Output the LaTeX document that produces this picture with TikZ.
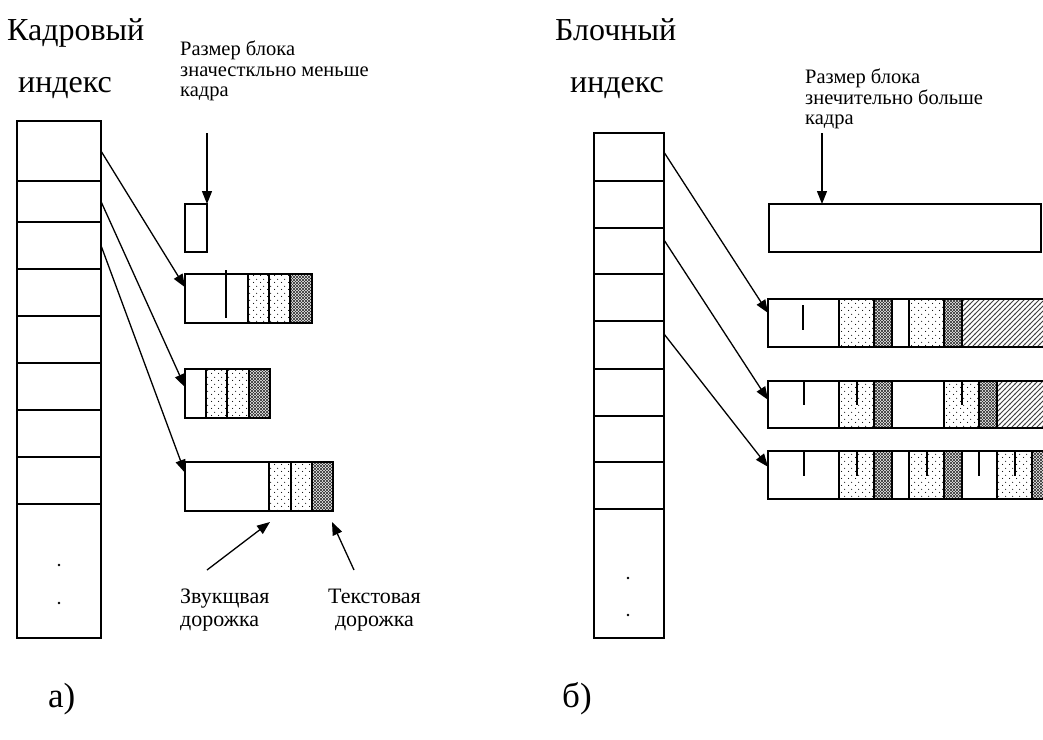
\documentclass[tikz,border=0pt]{standalone}
\usepackage{fontspec}
\setmainfont{Liberation Serif}
\usetikzlibrary{arrows.meta,patterns.meta,calc}

\tikzdeclarepattern{name=pdots, type=uncolored,
  bounding box={(0pt,0pt) and (7pt,7pt)}, tile size={(7pt,7pt)},
  code={\pgfpathcircle{\pgfpoint{1.75pt}{1.75pt}}{0.6pt}\pgfpathcircle{\pgfpoint{5.25pt}{5.25pt}}{0.6pt}\pgfusepath{fill}}}
\tikzdeclarepattern{name=pcross, type=uncolored,
  bounding box={(-0.5pt,-0.5pt) and (3.5pt,3.5pt)}, tile size={(3pt,3pt)},
  code={\pgfsetlinewidth{0.5pt}\pgfpathmoveto{\pgfpoint{-0.3pt}{-0.3pt}}\pgfpathlineto{\pgfpoint{3.3pt}{3.3pt}}\pgfpathmoveto{\pgfpoint{-0.3pt}{3.3pt}}\pgfpathlineto{\pgfpoint{3.3pt}{-0.3pt}}\pgfusepath{stroke}}}
\tikzdeclarepattern{name=phatch, type=uncolored,
  bounding box={(-1pt,-1pt) and (6pt,6pt)}, tile size={(5pt,5pt)},
  code={\pgfsetlinewidth{0.8pt}\pgfpathmoveto{\pgfpoint{-0.5pt}{-0.5pt}}\pgfpathlineto{\pgfpoint{5.5pt}{5.5pt}}\pgfusepath{stroke}}}

\newcommand\myBig{\fontsize{32}{36}\selectfont}
\newcommand\mySmall{\fontsize{20.5}{20.5}\selectfont}
\newcommand\myBottom{\fontsize{22}{23}\selectfont}
\newcommand\myLab{\fontsize{35}{38}\selectfont}

\tikzset{
  cell/.style={draw, line width=1.4pt, inner sep=0pt, outer sep=0pt, anchor=north west},
  sepline/.style={line width=1.4pt},
  tick/.style={line width=1.3pt},
  dotsfill/.style={pattern=pdots, pattern color=black},
  crossfill/.style={pattern=pcross, pattern color=black!80},
  hatchfill/.style={pattern=phatch, pattern color=black!75},
  arr/.style={-{Triangle[length=13pt,width=10pt]}, line width=1.3pt},
  bigtext/.style={font=\myBig, inner sep=0pt, anchor=base west},
  smalltext/.style={font=\mySmall, inner sep=0pt, anchor=north west, align=left},
  bottext/.style={font=\myBottom, inner sep=0pt, anchor=north west, align=left},
  labtext/.style={font=\myLab, inner sep=0pt, anchor=base west},
  dotmark/.style={fill=black}
}

\begin{document}
\begin{tikzpicture}[x=1pt,y=-1pt]
\clip (0,0) rectangle (1043,739);
\fill[white] (0,0) rectangle (1043,739);

% ---------------- left panel (a) ----------------
\node[bigtext] (ta1) at (7,40) {Кадровый};
\node[bigtext] (ta2) at (18,92) {индекс};
\node[smalltext] (na) at (180,41) {Размер блока\\значесткльно меньше\\кадра};

\foreach \n/\a/\b in {1/121/181,2/181/222,3/222/269,4/269/316,5/316/363,6/363/410,7/410/457,8/457/504,9/504/638}{
  \pgfmathsetmacro\h{\b-\a}
  \node[cell, minimum width=84, minimum height=\h] (c\n) at (17,\a) {};
}
\fill[dotmark] (59,565) circle (1.3);
\fill[dotmark] (59,603) circle (1.3);

% block 1 (small)
\node[cell, minimum width=22, minimum height=48] (A1) at (185,204) {};
% block 2
\fill[dotsfill] (248,274) rectangle (290,323);
\fill[crossfill] (290,274) rectangle (312,323);
\node[cell, minimum width=127, minimum height=49] (A2) at (185,274) {};
\foreach \x in {248,269,290}{\draw[sepline] (\x,274) -- (\x,323);}
\draw[tick] (226,270) -- (226,318);
% block 3
\fill[dotsfill] (206,369) rectangle (249,418);
\fill[crossfill] (249,369) rectangle (270,418);
\node[cell, minimum width=85, minimum height=49] (A3) at (185,369) {};
\foreach \x in {206,227,249}{\draw[sepline] (\x,369) -- (\x,418);}
% block 4
\fill[dotsfill] (269,462) rectangle (312,511);
\fill[crossfill] (312,462) rectangle (333,511);
\node[cell, minimum width=148, minimum height=49] (A4) at (185,462) {};
\foreach \x in {269,291,312}{\draw[sepline] (\x,462) -- (\x,511);}

% arrows (a)
\coordinate (pa) at (207,133);
\draw[arr] (pa) -- (A1.north east);
\draw[arr] (c1.east) -- ($(A2.north west)!0.27!(A2.south west)$);
\draw[arr] (c2.east) -- ($(A3.north west)!0.37!(A3.south west)$);
\draw[arr] (c3.east) -- ($(A4.north west)!0.22!(A4.south west)$);

\node[bottext] (snd) at (180,589) {Звукщвая\\дорожка};
\node[bottext, align=center] (txt) at (328,589) {Текстовая\\дорожка};
\coordinate (sa) at (207,570);
\coordinate (sb) at (270,522);
\coordinate (tb0) at (354,570);
\coordinate (tb1) at (332,522);
\draw[arr] (sa) -- (sb);
\draw[arr] (tb0) -- (tb1);

\node[labtext] (la) at (48,707) {а)};

% ---------------- right panel (б) ----------------
\node[bigtext] (tb2) at (555,40) {Блочный};
\node[bigtext] (tb3) at (570,92) {индекс};
\node[smalltext] (nb) at (805,69) {Размер блока\\знечительно больше\\кадра};

\foreach \n/\a/\b in {1/133/181,2/181/228,3/228/274,4/274/321,5/321/369,6/369/416,7/416/462,8/462/509,9/509/638}{
  \pgfmathsetmacro\h{\b-\a}
  \node[cell, minimum width=70, minimum height=\h] (r\n) at (594,\a) {};
}
\fill[dotmark] (628,578) circle (1.3);
\fill[dotmark] (628,615) circle (1.3);

% big block
\node[cell, minimum width=272, minimum height=48] (B0) at (769,204) {};

% row 1
\fill[dotsfill] (839,299) rectangle (874,347);
\fill[dotsfill] (909,299) rectangle (944,347);
\fill[crossfill] (874,299) rectangle (892,347);
\fill[crossfill] (944,299) rectangle (962,347);
\fill[hatchfill] (962,299) rectangle (1060,347);
\node[cell, minimum width=290, minimum height=48] (B1) at (768,299) {};
\foreach \x in {839,874,892,909,944,962}{\draw[sepline] (\x,299) -- (\x,347);}
\draw[tick] (803,305) -- (803,330);

% row 2
\fill[dotsfill] (839,381) rectangle (874,428);
\fill[dotsfill] (944,381) rectangle (979,428);
\fill[crossfill] (874,381) rectangle (892,428);
\fill[crossfill] (979,381) rectangle (997,428);
\fill[hatchfill] (997,381) rectangle (1060,428);
\node[cell, minimum width=290, minimum height=47] (B2) at (768,381) {};
\foreach \x in {839,874,892,944,979,997}{\draw[sepline] (\x,381) -- (\x,428);}
\foreach \x in {804,857,962}{\draw[tick] (\x,381) -- (\x,405);}

% row 3
\fill[dotsfill] (839,451) rectangle (874,499);
\fill[dotsfill] (909,451) rectangle (944,499);
\fill[dotsfill] (997,451) rectangle (1032,499);
\fill[crossfill] (874,451) rectangle (892,499);
\fill[crossfill] (944,451) rectangle (962,499);
\fill[crossfill] (1032,451) rectangle (1060,499);
\node[cell, minimum width=290, minimum height=48] (B3) at (768,451) {};
\foreach \x in {839,874,892,909,944,962,997,1032}{\draw[sepline] (\x,451) -- (\x,499);}
\foreach \x in {804,857,927,979,1015}{\draw[tick] (\x,451) -- (\x,476);}

% arrows (б)
\coordinate (pb) at (822,133);
\draw[arr] (pb) -- (pb |- B0.north);
\draw[arr] ($(r1.north east)!0.4!(r1.south east)$) -- ($(B1.north west)!0.29!(B1.south west)$);
\draw[arr] ($(r3.north east)!0.26!(r3.south east)$) -- ($(B2.north west)!0.4!(B2.south west)$);
\draw[arr] ($(r5.north east)!0.27!(r5.south east)$) -- ($(B3.north west)!0.33!(B3.south west)$);

\node[labtext] (lb) at (562,707) {б)};
\end{tikzpicture}
\end{document}
